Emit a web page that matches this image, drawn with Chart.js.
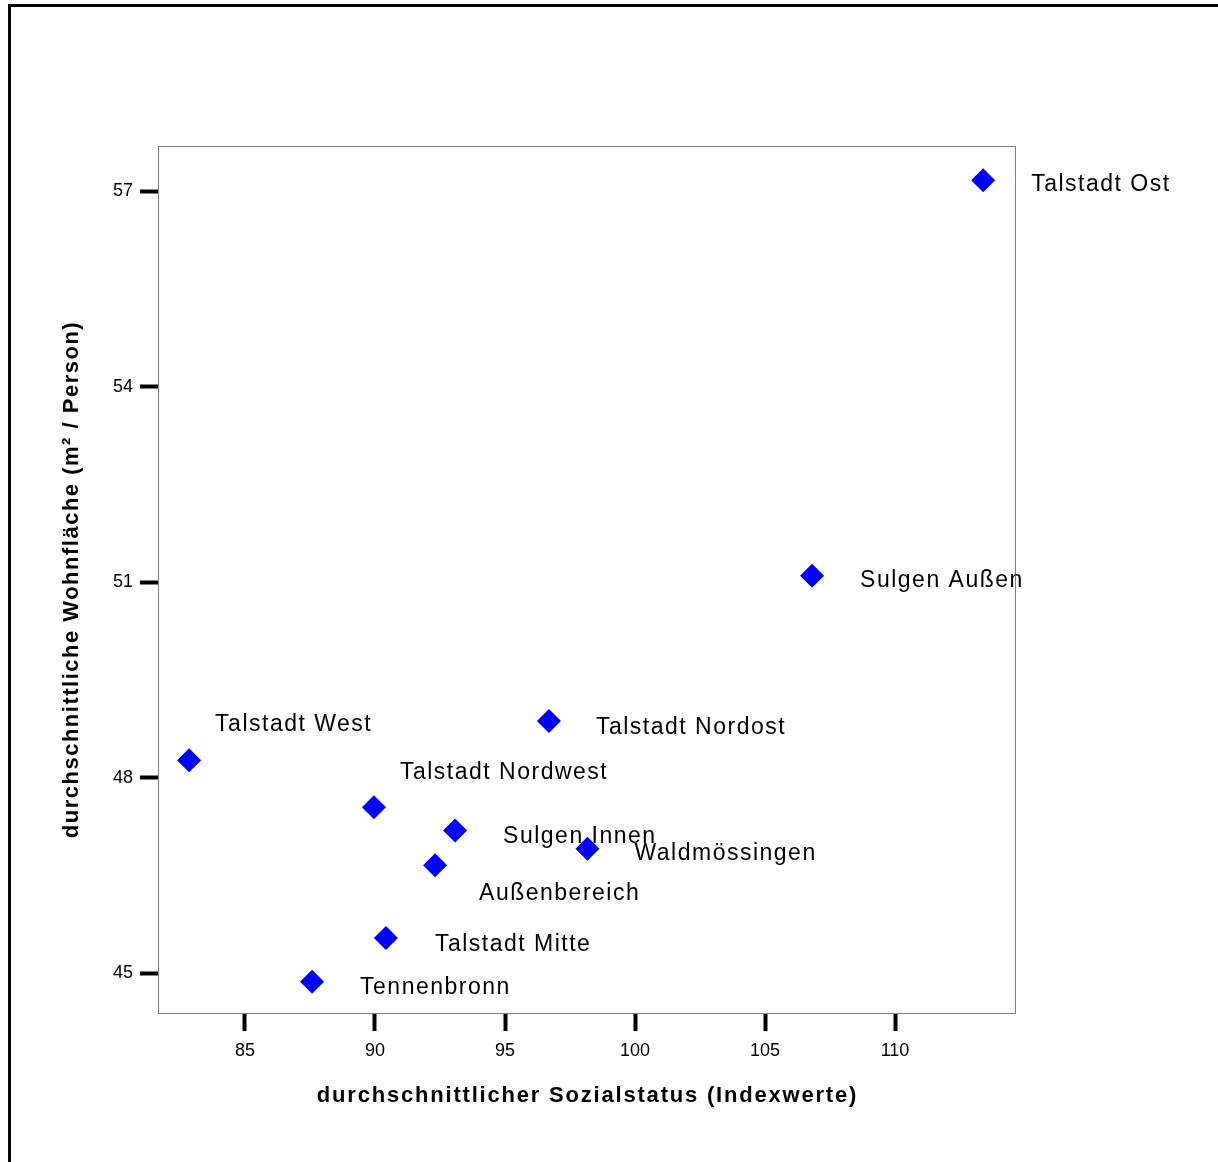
<!DOCTYPE html>
<html>
<head>
<meta charset="utf-8">
<script src="https://cdn.jsdelivr.net/npm/chart.js@4/dist/chart.umd.min.js"></script>
<style>
  html, body { margin: 0; padding: 0; background: #fff; }
  #wrap { width: 1218px; height: 1162px; }
</style>
</head>
<body>
<div id="wrap"><canvas id="myChart" width="1218" height="1162"></canvas></div>
<script>
const districts = [
  "Talstadt Ost", "Sulgen Außen", "Talstadt Nordost", "Talstadt West", "Talstadt Nordwest",
  "Sulgen Innen", "Waldmössingen", "Außenbereich", "Talstadt Mitte", "Tennenbronn"
];
const sozialstatus = [113.39, 106.81, 96.69, 82.85, 89.96, 93.08, 98.17, 92.31, 90.42, 87.58];
const wohnflaeche = [57.17, 51.10, 48.87, 48.27, 47.55, 47.19, 46.91, 46.66, 45.54, 44.87];
const xTicks = [85, 90, 95, 100, 105, 110];
const yTicks = [45, 48, 51, 54, 57];
const xTitle = "durchschnittlicher Sozialstatus (Indexwerte)";
const yTitle = "durchschnittliche Wohnfläche (m² / Person)";

// label offset from marker centre (px), text baseline
const labelOffsets = [
  [48, 11], [48, 11], [47, 13], [26, -29], [26, -28],
  [48, 12], [47, 11], [44, 35], [49, 13], [48, 12]
];

const FONT = "'Liberation Sans', Arial, sans-serif";

const points = sozialstatus.map((x, i) => ({ x: x, y: wohnflaeche[i] }));

// frame, point labels and axis titles
const decor = {
  id: "decor",
  afterDatasetsDraw(chart) {
    const ctx = chart.ctx;
    const a = chart.chartArea;
    ctx.save();
    ctx.strokeStyle = "#808080";
    ctx.lineWidth = 1;
    ctx.strokeRect(a.left + 0.5, a.top + 0.5, a.right - a.left, a.bottom - a.top);

    ctx.fillStyle = "#000";
    ctx.font = "23px " + FONT;
    ctx.letterSpacing = "1.5px";
    ctx.textBaseline = "alphabetic";
    ctx.textAlign = "left";
    const meta = chart.getDatasetMeta(0);
    meta.data.forEach((pt, i) => {
      ctx.fillText(districts[i], pt.x + labelOffsets[i][0], pt.y + labelOffsets[i][1]);
    });
    ctx.restore();
  },
  afterDraw(chart) {
    const ctx = chart.ctx;
    const a = chart.chartArea;
    ctx.save();
    ctx.strokeStyle = "#000";
    ctx.lineWidth = 3;
    ctx.strokeRect(9.5, 5.5, 1400, 1400);

    ctx.fillStyle = "#000";
    ctx.font = "bold 22px " + FONT;
    ctx.textAlign = "center";
    ctx.textBaseline = "middle";
    ctx.letterSpacing = "1.8px";
    ctx.fillText(xTitle, (a.left + a.right) / 2 + 1, 1096);
    ctx.letterSpacing = "1.5px";
    ctx.translate(72, (a.top + a.bottom) / 2);
    ctx.rotate(-Math.PI / 2);
    ctx.fillText(yTitle, 0, 0);
    ctx.restore();
  }
};

const tickFont = { family: FONT, size: 18 };

new Chart(document.getElementById("myChart"), {
  type: "scatter",
  data: {
    datasets: [{
      data: points,
      pointStyle: "rectRot",
      pointRadius: 12,
      pointHoverRadius: 12,
      pointBackgroundColor: "#0000ff",
      pointBorderColor: "#0000ff",
      pointBorderWidth: 0
    }]
  },
  options: {
    responsive: false,
    animation: false,
    layout: { padding: { top: 146, right: 203, left: 0, bottom: 0 } },
    plugins: {
      legend: { display: false },
      tooltip: { enabled: false }
    },
    scales: {
      x: {
        type: "linear",
        min: 81.654,
        max: 114.615,
        afterBuildTicks: (s) => { s.ticks = xTicks.map(v => ({ value: v })); },
        afterFit: (s) => { s.height = 149; },
        border: { display: false },
        grid: { drawOnChartArea: false, drawTicks: true, tickLength: 18, tickWidth: 4, tickColor: "#000" },
        ticks: { color: "#000", font: tickFont, padding: 9, maxRotation: 0 }
      },
      y: {
        type: "linear",
        min: 44.391,
        max: 57.695,
        afterBuildTicks: (s) => { s.ticks = yTicks.map(v => ({ value: v })); },
        afterFit: (s) => { s.width = 158; },
        border: { display: false },
        grid: { drawOnChartArea: false, drawTicks: true, tickLength: 18, tickWidth: 4, tickColor: "#000" },
        ticks: { color: "#000", font: tickFont, padding: 7 }
      }
    }
  },
  plugins: [decor]
});
</script>
</body>
</html>
